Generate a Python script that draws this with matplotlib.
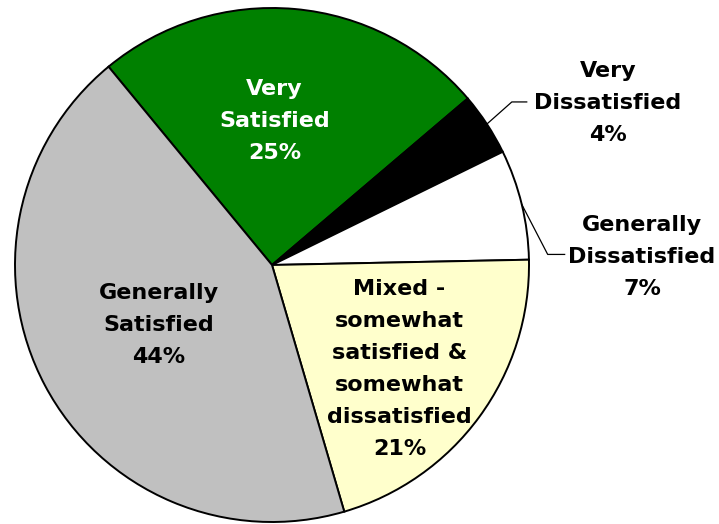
import numpy as np
import matplotlib
matplotlib.use('Agg')
import matplotlib.pyplot as plt

# satisfaction shares, in drawing order (clockwise from the upper left)
labels = ['Very\nSatisfied', 'Very\nDissatisfied', 'Generally\nDissatisfied',
          'Mixed -\nsomewhat\nsatisfied &\nsomewhat\ndissatisfied',
          'Generally\nSatisfied']
values = [25, 4, 7, 21, 44]
colors = ['#008000', '#000000', '#FFFFFF', '#FFFFCC', '#C0C0C0']
text_colors = ['white', 'black', 'black', 'black', 'black']

plt.rcParams['font.family'] = ['DejaVu Sans']

W, H = 719, 524
cx, cy, R = 272, 265, 257   # pie centre / radius in pixels
fig = plt.figure(figsize=(W / 100, H / 100), dpi=100)
ax = fig.add_axes([(cx - R) / W, (H - cy - R) / H, 2 * R / W, 2 * R / H])

start = 129.5
wedges, _ = ax.pie(values, colors=colors, startangle=start, counterclock=False,
                   radius=1, center=(0, 0), frame=False,
                   wedgeprops={'edgecolor': 'black', 'linewidth': 1.4})
ax.set_xlim(-1, 1)
ax.set_ylim(-1, 1)
ax.set_aspect('equal')
ax.axis('off')

fs = 16
ls = 1.75
# inside labels: (radius factor, angle shift in degrees) from the wedge middle
inside = {0: (0.56, 4), 3: (0.64, -3), 4: (0.50, 0)}
# outside labels: text position and leader elbow offsets (axis units)
outside = {1: ((1.307, 0.630), (0.097, 0.086), 0.058),
           2: ((1.440, 0.031), (0.101, -0.195), 0.066)}

for i, w in enumerate(wedges):
    mid = (w.theta1 + w.theta2) / 2
    txt = f'{labels[i]}\n{values[i]}%'
    if i in inside:
        r, shift = inside[i]
        a = np.deg2rad(mid + shift)
        ax.text(r * np.cos(a), r * np.sin(a), txt, ha='center', va='center',
                fontsize=fs, fontweight='bold', color=text_colors[i],
                linespacing=ls)
    else:
        pos, elbow, tail = outside[i]
        a = np.deg2rad(mid)
        p0 = np.array([np.cos(a), np.sin(a)])
        p1 = p0 + np.array(elbow)
        p2 = p1 + np.array([tail, 0])
        ax.plot([p0[0], p1[0], p2[0]], [p0[1], p1[1], p2[1]], color='black',
                linewidth=0.9, clip_on=False)
        ax.text(pos[0], pos[1], txt, ha='center', va='center', fontsize=fs,
                fontweight='bold', color=text_colors[i], linespacing=ls)

fig.savefig('out.png', dpi=100)
